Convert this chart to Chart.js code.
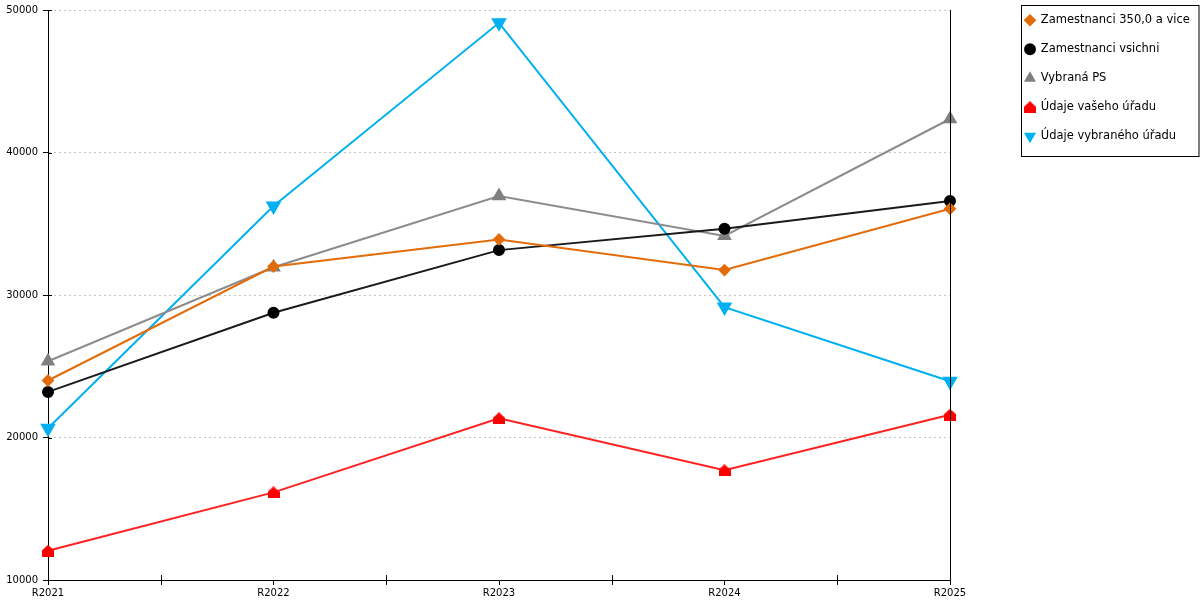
<!DOCTYPE html>
<html>
<head>
<meta charset="utf-8">
<script src="https://cdn.jsdelivr.net/npm/chart.js@4/dist/chart.umd.min.js"></script>
<style>
html, body { margin: 0; padding: 0; background: #fff; }
</style>
</head>
<body>
<canvas id="chart" width="1200" height="600"></canvas>
<script>
const years = ['R2021', 'R2022', 'R2023', 'R2024', 'R2025'];
const seriesNames = ['Zamestnanci 350,0 a vice', 'Zamestnanci vsichni', 'Vybraná PS', 'Údaje vašeho úřadu', 'Údaje vybraného úřadu'];
const zam350 = [24000, 32000, 33900, 31750, 36050];
const zamAll = [23200, 28750, 33150, 34650, 36600];
const vybranaPS = [25350, 31950, 36950, 34150, 42350];
const vasUrad = [12050, 16150, 21350, 17700, 21600];
const vybranyUrad = [20650, 36250, 49100, 29150, 23950];
const yTicks = [10000, 20000, 30000, 40000, 50000];

const FONT = 'DejaVu Sans';
const LEGEND_GAP = 75;   // from plot edge to the legend markers

// little "house" marker (square with a roof) for the red series
function houseMarker(size, color) {
  const c = document.createElement('canvas');
  c.width = size; c.height = size;
  const g = c.getContext('2d');
  g.fillStyle = color;
  g.beginPath();
  g.moveTo(size / 2, 0);
  g.lineTo(size, size * 0.45);
  g.lineTo(size, size);
  g.lineTo(0, size);
  g.lineTo(0, size * 0.45);
  g.closePath();
  g.fill();
  return c;
}
const house = houseMarker(12, '#ff0000');

function series(label, data, line, fill, style, radius, rotation) {
  return {
    label: label,
    data: data,
    borderColor: line,
    backgroundColor: fill,
    pointBackgroundColor: fill,
    pointBorderColor: fill,
    pointStyle: style,
    pointRadius: radius,
    pointHoverRadius: radius,
    pointRotation: rotation || 0,
    borderWidth: 2,
    tension: 0,
    clip: false
  };
}

const framePlugin = {
  id: 'frame',
  afterLayout(chart) {
    // legend sits a bit away from the plot, like in the original
    const lg = chart.legend;
    if (lg) {
      const pad = lg.options.labels.padding;
      const dx = chart.chartArea.right + LEGEND_GAP - pad - lg.left;
      lg.left += dx;
      lg.right = Math.max(lg.right + dx, chart.width);
      lg.width = lg.right - lg.left;
      lg.top = -3;
    }
  },
  afterDraw(chart) {
    const ctx = chart.ctx, a = chart.chartArea;
    const xs = chart.scales.x, ys = chart.scales.y;
    ctx.save();
    ctx.strokeStyle = '#000';
    ctx.lineWidth = 1;
    ctx.beginPath();
    const rx = Math.round(a.right) + 0.5;
    ctx.moveTo(rx, a.top);
    ctx.lineTo(rx, a.bottom);
    // minor ticks between the categories
    for (let i = 0; i < years.length - 1; i++) {
      const px = Math.round(xs.getPixelForValue(i + 0.5)) + 0.5;
      ctx.moveTo(px, a.bottom - 5);
      ctx.lineTo(px, a.bottom + 5);
    }
    // inner part of the y ticks
    yTicks.forEach(v => {
      const py = Math.round(ys.getPixelForValue(v)) + 0.5;
      ctx.moveTo(a.left, py);
      ctx.lineTo(a.left + 4, py);
    });
    ctx.stroke();
    // box round the legend
    const lg = chart.legend;
    if (lg && lg.legendHitBoxes && lg.legendHitBoxes.length) {
      const hb = lg.legendHitBoxes;
      const first = hb[0], last = hb[hb.length - 1];
      const left = Math.round(first.left - 4) + 0.5;
      const top = Math.round(first.top - 10) + 0.5;
      const bottom = Math.round(last.top + last.height + 14) + 0.5;
      ctx.strokeRect(left, top, 1199 - left, bottom - top);
    }
    ctx.restore();
  }
};

const ctx = document.getElementById('chart').getContext('2d');
const chart = new Chart(ctx, {
  type: 'line',
  data: {
    labels: years,
    datasets: [
      series(seriesNames[0], zam350, '#e36c0a', '#e36c0a', 'rectRot', 5),
      series(seriesNames[1], zamAll, '#1a1a1a', '#000000', 'circle', 5),
      series(seriesNames[2], vybranaPS, '#8c8c8c', '#808080', 'triangle', 6.5),
      series(seriesNames[3], vasUrad, '#ff2020', '#ff0000', house, 6),
      series(seriesNames[4], vybranyUrad, '#00b0f0', '#00b0f0', 'triangle', 7, 180)
    ]
  },
  options: {
    responsive: false,
    animation: false,
    layout: { padding: 0 },
    plugins: {
      tooltip: { enabled: false },
      legend: {
        position: 'right',
        align: 'start',
        labels: {
          usePointStyle: true,
          boxWidth: 10,
          boxHeight: 7,
          padding: 17.5,
          color: '#000',
          font: { family: FONT, size: 11.5 }
        }
      }
    },
    scales: {
      x: {
        type: 'category',
        offset: false,
        grid: {
          display: true,
          drawOnChartArea: false,
          tickLength: 5,
          tickColor: '#000'
        },
        border: { display: true, color: '#000', width: 1 },
        ticks: {
          color: '#000',
          padding: 2,
          maxRotation: 0,
          font: { family: FONT, size: 10 }
        },
        afterFit(s) {
          s.height = 20;
          s.paddingRight = 250;
        }
      },
      y: {
        min: 10000,
        max: 50000,
        afterBuildTicks(s) {
          s.ticks = yTicks.map(v => ({ value: v }));
        },
        grid: {
          color: '#c4c4c4',
          tickLength: 5,
          tickColor: '#000',
          tickBorderDash: []
        },
        border: { display: true, color: '#000', width: 1, dash: [2, 3] },
        ticks: {
          color: '#000',
          padding: 5,
          font: { family: FONT, size: 10 },
          callback: v => String(v)
        },
        afterFit(s) {
          s.width = 48;
          s.paddingTop = 10;
        }
      }
    }
  },
  plugins: [framePlugin]
});
</script>
</body>
</html>
